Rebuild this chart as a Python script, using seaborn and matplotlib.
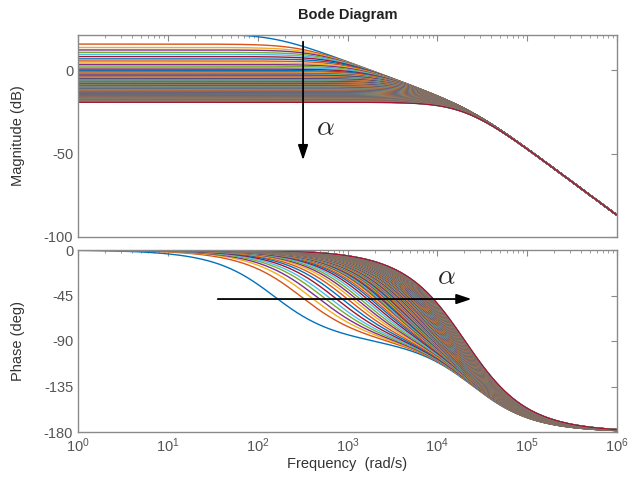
import numpy as np
import pandas as pd
import matplotlib
matplotlib.use("Agg")
import matplotlib.pyplot as plt
from matplotlib.ticker import LogLocator, NullFormatter, FixedLocator
import seaborn as sns

# Plant: G(s) = K / ((s + alpha) (s + p)), swept over the low-frequency pole alpha (rad/s)
alpha_poles = [
    150, 300, 380, 450, 530, 610, 710, 830, 960, 1100, 1230, 1370, 1520, 1680,
    1850, 2000, 2150,
    2250, 2350, 2450, 2550, 2650, 2750, 2850, 2950, 3050, 3150,
    3250, 3350, 3450, 3550, 3650, 3750, 3850, 3950, 4050, 4150,
    4250, 4350, 4450, 4550, 4650, 4750, 4850, 4950, 5050, 5150,
    5250, 5350, 5450, 5550, 5650, 5750, 5850, 5950, 6050, 6150,
    6250, 6350, 6450, 6550, 6650, 6750, 6850, 6950, 7050, 7150,
    7250, 7350, 7450, 7550, 7650, 7750, 7850, 7950, 8050, 8150,
    8250, 8350, 8450, 8550, 8650, 8750, 8850, 8950, 9050, 9150,
    9250, 9350, 9450, 9550, 9650, 9750, 9850, 9950, 10050, 10150,
    10250, 10350, 10450, 10550, 10650, 10750, 10850, 10950, 11050, 11150,
    11250, 11350, 11450, 11550, 11650, 11750, 11850, 11950, 12050, 12150,
    12250, 12350, 12450, 12550, 12650, 12750, 12850, 12950, 13050, 13150,
    13250, 13350, 13450, 13550, 13650, 13750, 13850, 13950, 14050, 14150,
    14250, 14350, 14450, 14550, 14650, 14750, 14850, 14950, 15050, 15150,
    15250, 15350, 15450, 15550, 15650, 15750, 15850, 15950, 16050, 16150,
    16250, 16350, 16450, 16550,
]
fixed_pole = 2.5e4          # rad/s
gain = 1800 * fixed_pole    # K

mag_ticks = [0, -50, -100]
phase_ticks = [0, -45, -90, -135, -180]
freq_decades = [0, 1, 2, 3, 4, 5, 6]

matlab_colors = ["#0072BD", "#D95319", "#EDB120", "#7E2F8E",
                 "#77AC30", "#4DBEEE", "#A2142F"]

# Frequency response of every member of the family
w = np.logspace(0, 6, 500)
rows = []
for i, a in enumerate(alpha_poles):
    s = 1j * w
    G = gain / ((s + a) * (s + fixed_pole))
    mag_db = 20 * np.log10(np.abs(G))
    phase = np.degrees(np.unwrap(np.angle(G)))
    rows.append(pd.DataFrame({"w": w, "mag": mag_db, "phase": phase, "k": i}))
df = pd.concat(rows, ignore_index=True)
palette = [matlab_colors[i % 7] for i in range(len(alpha_poles))]

sns.set_style("white")
plt.rcParams["font.family"] = ["Liberation Sans", "DejaVu Sans"]
plt.rcParams["mathtext.fontset"] = "cm"
plt.rcParams["axes.unicode_minus"] = False

W, H = 629, 487
fig = plt.figure(figsize=(W / 100, H / 100), dpi=100)
ax1 = fig.add_axes([78 / W, 1 - 237 / H, 539 / W, 202 / H])
ax2 = fig.add_axes([78 / W, 1 - 432 / H, 539 / W, 182 / H])

line_kw = dict(hue="k", palette=palette, legend=False, estimator=None,
               sort=False, lw=1.0)
sns.lineplot(data=df, x="w", y="mag", ax=ax1, **line_kw)
sns.lineplot(data=df, x="w", y="phase", ax=ax2, **line_kw)

frame_col = "#8a8a8a"
text_col = "#555555"
for ax in (ax1, ax2):
    ax.set_xscale("log")
    ax.set_xlim(1, 1e6)
    ax.xaxis.set_major_locator(FixedLocator([10.0 ** d for d in freq_decades]))
    ax.xaxis.set_minor_locator(LogLocator(base=10, subs=np.arange(2, 10), numticks=20))
    ax.xaxis.set_minor_formatter(NullFormatter())
    for sp in ax.spines.values():
        sp.set_color(frame_col)
        sp.set_linewidth(1.0)
    ax.tick_params(which="both", direction="in", top=True, right=True,
                   color=frame_col, labelcolor=text_col, labelsize=10.5)
    ax.tick_params(which="major", length=4, width=0.8)
    ax.tick_params(which="minor", length=2.5, width=0.6)
    ax.set_xlabel("")

ax1.set_ylim(-100, 21)
ax1.set_yticks(mag_ticks)
ax1.tick_params(axis="x", labelbottom=False)
ax1.set_ylabel("Magnitude (dB)", fontsize=10.5, color="#333333")
ax1.yaxis.set_label_coords(-0.098, 0.5)

ax2.set_ylim(-180, 0)
ax2.set_yticks(phase_ticks)
ax2.set_ylabel("Phase (deg)", fontsize=10.5, color="#333333")
ax2.yaxis.set_label_coords(-0.098, 0.5)
ax2.set_xlabel("Frequency  (rad/s)", fontsize=10.5, color="#333333", labelpad=1)

fig.text(348 / W, 1 - 15 / H, "Bode Diagram", ha="center", va="center",
         fontsize=10.5, fontweight="bold", color="#222222")

arrow = dict(arrowstyle="-|>,head_length=0.9,head_width=0.3", color="black",
             lw=1.3, shrinkA=0, shrinkB=0)
ax1.annotate("", xy=(320, -54), xytext=(320, 17), arrowprops=arrow)
ax1.text(560, -35, r"$\alpha$", fontsize=20, ha="center", va="center")
ax2.annotate("", xy=(2.4e4, -48.5), xytext=(36, -48.5), arrowprops=arrow)
ax2.text(1.25e4, -27, r"$\alpha$", fontsize=20, ha="center", va="center")

fig.savefig("out.png", dpi=100)
